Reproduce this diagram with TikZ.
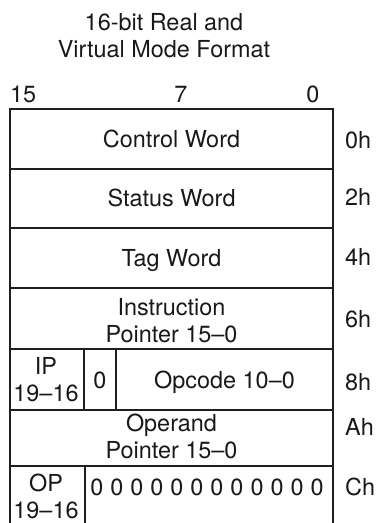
\documentclass[tikz,border=0pt]{standalone}
\usepackage{fontspec}
\setmainfont{TeX Gyre Heros}
\begin{document}
\begin{tikzpicture}[x=1bp,y=-1bp,
  frame/.style={line width=2.4bp, draw=black!88},
  txt/.style={font=\fontsize{23.5}{27}\selectfont, inner sep=0pt, align=center, text=black!90},
  lbl/.style={txt, anchor=base west},
  ctr/.style={txt, anchor=base}]
\useasboundingbox (0,0) rectangle (380,523);
% frame
\draw[frame] (10,523) -- (10,109) -- (333,109) -- (333,523);
\draw[frame] (10,169) -- (333,169);
\draw[frame] (10,228) -- (333,228);
\draw[frame] (10,288) -- (333,288);
\draw[frame] (10,349) -- (333,349);
\draw[frame] (10,410) -- (333,410);
\draw[frame] (10,466) -- (333,466);
\draw[frame] (84,349) -- (84,410);
\draw[frame] (116,349) -- (116,410);
\draw[frame] (85,466) -- (85,523);
% title
\node[ctr] (t1) at (164,31) {16-bit Real and};
\node[ctr] (t2) at (164,58) {Virtual Mode Format};
% bit numbers
\node[txt, anchor=base west] (b15) at (10,103) {15};
\node[ctr] (b7) at (181,103) {7};
\node[ctr] (b0) at (313,103) {0};
% fields
\node[ctr] (cw) at (171.5,148) {Control Word};
\node[ctr] (sw) at (171.5,207) {Status Word};
\node[ctr] (tw) at (171.5,266) {Tag Word};
\node[txt] (ip) at (171.5,321) {Instruction\\Pointer 15--0};
\node[txt] (iph) at (46,379.5) {IP\\19--16};
\node[ctr] (z) at (100,388) {0};
\node[ctr] (opc) at (224.5,388) {Opcode 10--0};
\node[txt] (op) at (171.5,436) {Operand\\Pointer 15--0};
\node[txt] (oph) at (46,496) {OP\\19--16};
\node[ctr] (zeros) at (207,495) {0\hspace{7bp}0\hspace{7bp}0\hspace{7bp}0\hspace{7bp}0\hspace{7bp}0\hspace{7bp}0\hspace{7bp}0\hspace{7bp}0\hspace{7bp}0\hspace{7bp}0\hspace{7bp}0};
% offsets
\node[lbl] (o0) at (345,149) {0h};
\node[lbl] (o2) at (345,206) {2h};
\node[lbl] (o4) at (345,265) {4h};
\node[lbl] (o6) at (345,327) {6h};
\node[lbl] (o8) at (345,390) {8h};
\node[lbl] (oA) at (345,435) {Ah};
\node[lbl] (oC) at (345,495) {Ch};
\end{tikzpicture}
\end{document}
